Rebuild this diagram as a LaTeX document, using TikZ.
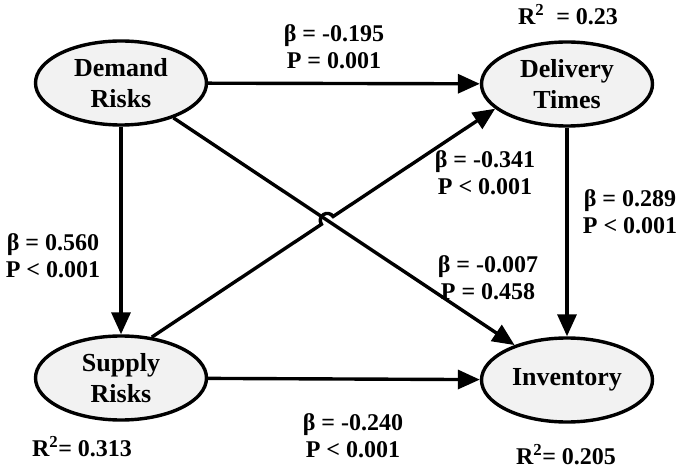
\documentclass[tikz,border=0pt]{standalone}
\usepackage{fontspec}
\setmainfont{Liberation Serif}
\usetikzlibrary{shapes.geometric,arrows.meta,calc,intersections}
\definecolor{latentfill}{HTML}{F2F2F2}

\begin{document}
\begin{tikzpicture}[x=1pt, y=1pt,
    latent/.style={draw, ellipse, line width=3.4pt, fill=latentfill, minimum width=171pt, minimum height=84pt, inner sep=0pt, align=center, font=\fontsize{26}{31}\selectfont\bfseries},
    arr/.style={-{Triangle[length=22pt,width=19pt]}, line width=3.4pt},
    est/.style={align=center, font=\fontsize{24}{27}\selectfont\bfseries}
]
\useasboundingbox (0,0) rectangle (677,469);
\node[latent] (dr) at (121,386) {Demand\\Risks};
\node[latent] (dt) at (567,385) {Delivery\\Times};
\node[latent] (sr) at (121,91) {Supply\\Risks};
\node[latent] (inv) at (567,89) {Inventory};

\draw[arr] (dr) -- (dt);
\draw[arr] (dr) -- (sr);
\draw[arr] (dt) -- (inv);
\draw[arr] (sr) -- (inv);
\draw[arr, name path=drinv] (dr) -- (inv);
\path[name path=srdt] (sr.53) -- (dt.199);
\path[name intersections={of=drinv and srdt, by=hop}];
\draw[arr] let \p1=($(dt.199)-(sr.53)$), \n1={atan2(\y1,\x1)} in
    (sr.53) -- ($(hop)!7pt!(sr.53)$) arc[start angle=\n1+180, end angle=\n1, radius=7pt] -- (dt.199);

\node[est] (b1) at (334,422) {β = -0.195\\P = 0.001};
\node[est] (b2) at (485,296) {β = -0.341\\P < 0.001};
\node[est] (b3) at (53,213) {β = 0.560\\P < 0.001};
\node[est] (b4) at (630,257) {β = 0.289\\P < 0.001};
\node[est] (b5) at (488,191) {β = -0.007\\P = 0.458};
\node[est] (b6) at (353,33) {β = -0.240\\P < 0.001};
\node[est] (r1) at (568,454) {R\textsuperscript{2}\ \ = 0.23};
\node[est] (r2) at (82,22) {R\textsuperscript{2}= 0.313};
\node[est] (r3) at (566,14) {R\textsuperscript{2}= 0.205};
\end{tikzpicture}
\end{document}
